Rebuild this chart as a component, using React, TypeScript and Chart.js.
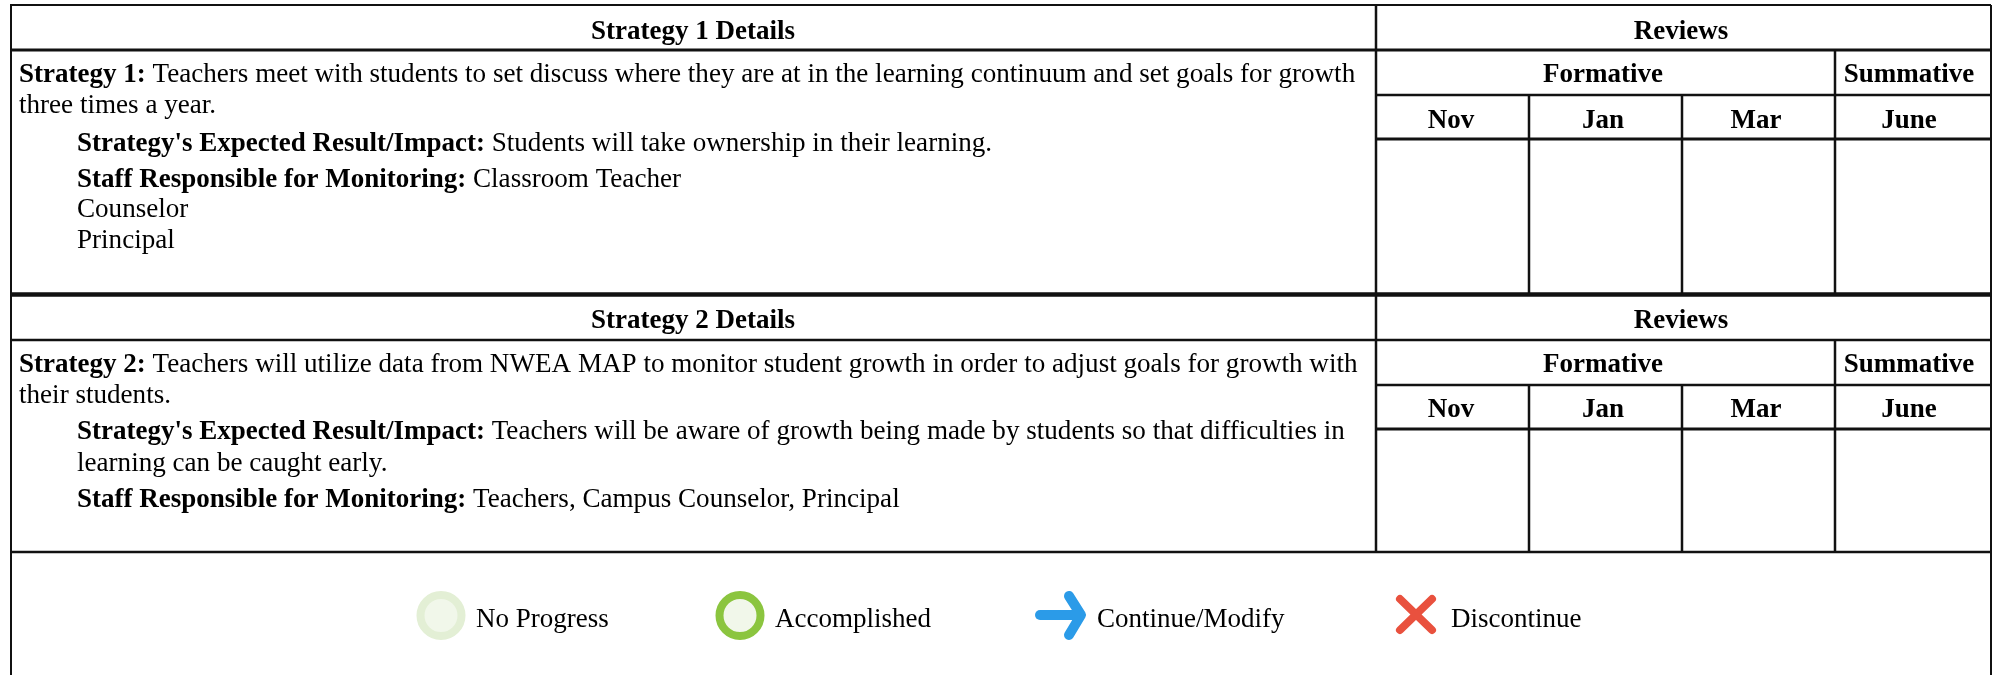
import React, { useEffect, useRef } from "react";
import { Chart, registerables } from "chart.js";

Chart.register(...registerables);

const W = 1997;
const H = 675;

// Table text: [bold text, regular text, x (in axis units), baseline (in axis units)]
const bodyLines: [string, string, number, number][] = [
  ["Strategy 1:", " Teachers meet with students to set discuss where they are at in the learning continuum and set goals for growth", 19, 82],
  ["", "three times a year.", 19, 113],
  ["Strategy's Expected Result/Impact:", " Students will take ownership in their learning.", 77, 151],
  ["Staff Responsible for Monitoring:", " Classroom Teacher", 77, 187],
  ["", "Counselor", 77, 217],
  ["", "Principal", 77, 248],
  ["Strategy 2:", " Teachers will utilize data from NWEA MAP to monitor student growth in order to adjust goals for growth with", 19, 372],
  ["", "their students.", 19, 403],
  ["Strategy's Expected Result/Impact:", " Teachers will be aware of growth being made by students so that difficulties in", 77, 439],
  ["", "learning can be caught early.", 77, 471],
  ["Staff Responsible for Monitoring:", " Teachers, Campus Counselor, Principal", 77, 507],
];

// Centered bold headers: [text, center x, baseline]
const headers: [string, number, number][] = [
  ["Strategy 1 Details", 693, 39],
  ["Reviews", 1681, 39],
  ["Formative", 1603, 82],
  ["Summative", 1909, 82],
  ["Nov", 1451, 128],
  ["Jan", 1603, 128],
  ["Mar", 1756, 128],
  ["June", 1909, 128],
  ["Strategy 2 Details", 693, 328],
  ["Reviews", 1681, 328],
  ["Formative", 1603, 372],
  ["Summative", 1909, 372],
  ["Nov", 1451, 417],
  ["Jan", 1603, 417],
  ["Mar", 1756, 417],
  ["June", 1909, 417],
];

const legendLabels: [string, number, number][] = [
  ["No Progress", 476, 627],
  ["Accomplished", 775, 627],
  ["Continue/Modify", 1097, 627],
  ["Discontinue", 1451, 627],
];

// Table rules: x0, y0, x1, y1, width
const rules: [number, number, number, number, number][] = [
  [10, 5, 1991, 5, 2],
  [10, 50, 1991, 50, 3],
  [1376, 95, 1991, 95, 2.5],
  [1376, 139, 1991, 139, 3],
  [10, 294.5, 1991, 294.5, 4.5],
  [10, 340, 1991, 340, 2.5],
  [1376, 385, 1991, 385, 2.5],
  [1376, 429, 1991, 429, 3],
  [10, 552, 1991, 552, 2.5],
  [11, 5, 11, 675, 2],
  [1991, 5, 1991, 675, 2],
  [1376, 5, 1376, 552, 2.5],
  [1835, 50, 1835, 293, 2.5],
  [1529, 95, 1529, 293, 2.5],
  [1682, 95, 1682, 293, 2.5],
  [1835, 340, 1835, 552, 2.5],
  [1529, 385, 1529, 552, 2.5],
  [1682, 385, 1682, 552, 2.5],
];

// Legend markers
const arrowShaft = [{ x: 1040, y: 615 }, { x: 1080, y: 615 }];
const arrowHead = [{ x: 1069, y: 596 }, { x: 1081, y: 615 }, { x: 1069, y: 635 }];
const crossA = [{ x: 1400, y: 599 }, { x: 1432, y: 630 }];
const crossB = [{ x: 1432, y: 599 }, { x: 1400, y: 630 }];
const noProgressPoint = [{ x: 441, y: 615.5 }];
const accomplishedPoint = [{ x: 740, y: 615.5 }];

const BOLD_SIZE = 27;
const REGULAR_SIZE = 27.1;
const SERIF = '"Liberation Serif", "Times New Roman", serif';

const textPlugin = {
  id: "tableText",
  afterDatasetsDraw(chart: any) {
    const { ctx, scales } = chart;
    const px = (v: number) => scales.x.getPixelForValue(v);
    const py = (v: number) => scales.y.getPixelForValue(v);
    ctx.save();
    ctx.fillStyle = "#000";
    ctx.textBaseline = "alphabetic";
    ctx.textAlign = "left";
    for (const [bold, regular, x, y] of bodyLines) {
      let cx = px(x);
      if (bold) {
        ctx.font = `bold ${BOLD_SIZE}px ${SERIF}`;
        ctx.fillText(bold, cx, py(y));
        cx += ctx.measureText(bold).width;
      }
      ctx.font = `${REGULAR_SIZE}px ${SERIF}`;
      ctx.fillText(regular, cx, py(y));
    }
    ctx.font = `${BOLD_SIZE}px ${SERIF}`;
    for (const [t, x, y] of legendLabels) ctx.fillText(t, px(x), py(y));
    ctx.textAlign = "center";
    ctx.font = `bold ${BOLD_SIZE}px ${SERIF}`;
    for (const [t, x, y] of headers) ctx.fillText(t, px(x), py(y));
    ctx.restore();
  },
};

function lineSet(data: { x: number; y: number }[], color: string, width: number, round = false) {
  return {
    data,
    showLine: true,
    clip: false,
    borderColor: color,
    borderWidth: width,
    pointRadius: 0,
    borderCapStyle: round ? "round" : "butt",
    borderJoinStyle: round ? "round" : "miter",
    fill: false,
    tension: 0,
  };
}

export default function App() {
  const ref = useRef<HTMLCanvasElement | null>(null);
  useEffect(() => {
    const chart = new Chart(ref.current as HTMLCanvasElement, {
      type: "scatter",
      data: {
        datasets: [
          ...rules.map(([x0, y0, x1, y1, w]) =>
            lineSet([{ x: x0, y: y0 }, { x: x1, y: y1 }], "#111", w)
          ),
          lineSet(arrowShaft, "#2b9be8", 10, true),
          lineSet(arrowHead, "#2b9be8", 10, true),
          lineSet(crossA, "#e9513e", 8, true),
          lineSet(crossB, "#e9513e", 8, true),
          {
            data: noProgressPoint,
            pointRadius: 20.5,
            pointBackgroundColor: "#f1f7ea",
            pointBorderColor: "#e3efd5",
            pointBorderWidth: 8,
          },
          {
            data: accomplishedPoint,
            pointRadius: 20.5,
            pointBackgroundColor: "#f1f7ea",
            pointBorderColor: "#8bc53f",
            pointBorderWidth: 8,
          },
        ] as any,
      },
      options: {
        animation: false,
        responsive: false,
        events: [],
        layout: { padding: 0, autoPadding: false },
        plugins: { legend: { display: false }, tooltip: { enabled: false } },
        scales: {
          x: { type: "linear", min: 0, max: W, display: false },
          y: { type: "linear", min: 0, max: H, reverse: true, display: false },
        },
      },
      plugins: [textPlugin],
    });
    return () => chart.destroy();
  }, []);
  return (
    <div style={{ position: "fixed", left: 0, top: 0, width: W, height: H, background: "#fff" }}>
      <canvas ref={ref} width={W} height={H} style={{ display: "block", width: W, height: H }} />
    </div>
  );
}
